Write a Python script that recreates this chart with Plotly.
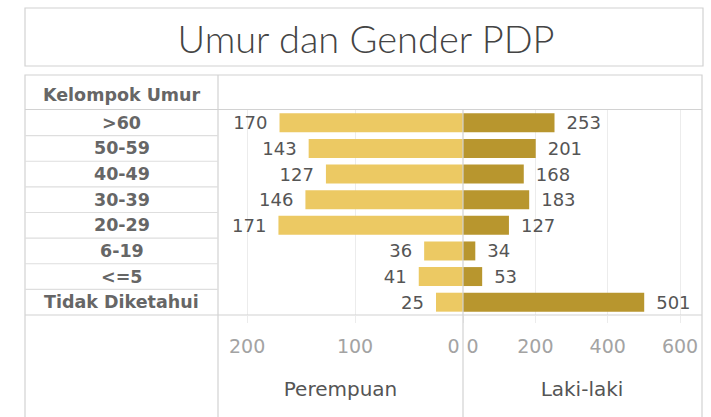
import plotly.graph_objects as go

W, H = 711, 417

categories = [">60", "50-59", "40-49", "30-39", "20-29", "6-19", "<=5", "Tidak Diketahui"]
perempuan = [170, 143, 127, 146, 171, 36, 41, 25]
laki_laki = [253, 201, 168, 183, 127, 34, 53, 501]

left_ticks = [0, 100, 200]
left_ticktext = ["0\u2003", "100", "200"]
right_ticks = [0, 200, 400, 600]
right_ticktext = ["\u20030", "200", "400", "600"]

title_text = "Umur dan Gender PDP"
header_text = "Kelompok Umur"
left_title = "Perempuan"
right_title = "Laki-laki"

C_LIGHT = "#ECC963"
C_DARK = "#B8962E"
BORDER = "#d2d2d2"
GRID = "#ececec"
FONT = "DejaVu Sans"


def px(x):
    return x / W


def py(y):
    return 1 - y / H


fig = go.Figure()

fig.add_trace(go.Bar(
    y=categories, x=perempuan, orientation="h", xaxis="x", yaxis="y",
    marker=dict(color=C_LIGHT, line=dict(width=0)), width=0.74,
    text=perempuan, texttemplate="%{x}\u2002", textposition="outside",
    constraintext="none", cliponaxis=False,
    textfont=dict(family=FONT, size=18, color="#555555"),
    showlegend=False, name=left_title, hoverinfo="skip",
))
fig.add_trace(go.Bar(
    y=categories, x=laki_laki, orientation="h", xaxis="x2", yaxis="y",
    marker=dict(color=C_DARK, line=dict(width=0)), width=0.74,
    text=laki_laki, texttemplate="\u2002%{x}", textposition="outside",
    constraintext="none", cliponaxis=False,
    textfont=dict(family=FONT, size=18, color="#555555"),
    showlegend=False, name=right_title, hoverinfo="skip",
))

axis_common = dict(
    showgrid=True, gridcolor=GRID, gridwidth=1, zeroline=False,
    ticks="outside", ticklen=7, tickcolor=GRID, showline=False,
    tickfont=dict(family=FONT, size=19, color="#a3a3a3"),
    ticklabelstandoff=7, fixedrange=True, automargin=False,
)

fig.update_layout(
    template="none",
    width=W, height=H,
    margin=dict(l=0, r=0, t=0, b=0, pad=0),
    paper_bgcolor="white", plot_bgcolor="white",
    barmode="overlay",
    title=dict(text=title_text, x=px(366), xanchor="center", y=py(40), yanchor="middle",
               yref="paper", xref="paper", automargin=False,
               font=dict(family="Lato", weight=300, size=38, color="#444444")),
    xaxis=dict(domain=[px(218), px(463)], range=[227, 0], anchor="y",
               tickvals=left_ticks, ticktext=left_ticktext,
               title=dict(text=left_title, standoff=26,
                          font=dict(family=FONT, size=20, color="#555555")),
               **axis_common),
    xaxis2=dict(domain=[px(463), px(701)], range=[0, 658], anchor="y",
                tickvals=right_ticks, ticktext=right_ticktext,
                title=dict(text=right_title, standoff=26,
                           font=dict(family=FONT, size=20, color="#555555")),
                **axis_common),
    yaxis=dict(domain=[py(315), py(110)], categoryorder="array", categoryarray=categories,
               autorange="reversed", showticklabels=False, showgrid=False,
               zeroline=False, ticks="", fixedrange=True, automargin=False),
)

# row labels (left column)
for cat in categories:
    fig.add_annotation(x=px(121.5), xref="paper", y=cat, yref="y", text=cat,
                       showarrow=False, xanchor="center", yanchor="middle",
                       font=dict(family=FONT, size=17.5, color="#666666", weight="bold"))
fig.add_annotation(x=px(121.5), xref="paper", y=py(95), yref="paper", text=header_text,
                   showarrow=False, xanchor="center", yanchor="middle",
                   font=dict(family=FONT, size=17.5, color="#666666", weight="bold"))

shapes = []
line = dict(color=BORDER, width=1.2)
# title box
shapes.append(dict(type="rect", xref="paper", yref="paper", x0=px(25), x1=px(703),
                   y0=py(66), y1=py(8), line=line))
# main box
shapes.append(dict(type="rect", xref="paper", yref="paper", x0=px(25), x1=px(702),
                   y0=py(425), y1=py(75), line=line))
# column divider
shapes.append(dict(type="line", xref="paper", yref="paper", x0=px(218), x1=px(218),
                   y0=py(75), y1=py(420), line=line))
# pane divider
shapes.append(dict(type="line", xref="paper", yref="paper", x0=px(463), x1=px(463),
                   y0=py(109), y1=py(420), line=line))
# header line and bottom line
for yy in (109.5, 315):
    shapes.append(dict(type="line", xref="paper", yref="paper", x0=px(25), x1=px(702),
                       y0=py(yy), y1=py(yy), line=line))
# row separators in label column
for i in range(len(categories) - 1):
    shapes.append(dict(type="line", xref="paper", yref="y", x0=px(25), x1=px(218),
                       y0=i + 0.5, y1=i + 0.5, line=dict(color="#dedede", width=1.2)))
fig.update_layout(shapes=shapes)

fig.write_html("out.html", config={"displayModeBar": False, "staticPlot": True},
               post_script="document.body.style.margin='0';")
